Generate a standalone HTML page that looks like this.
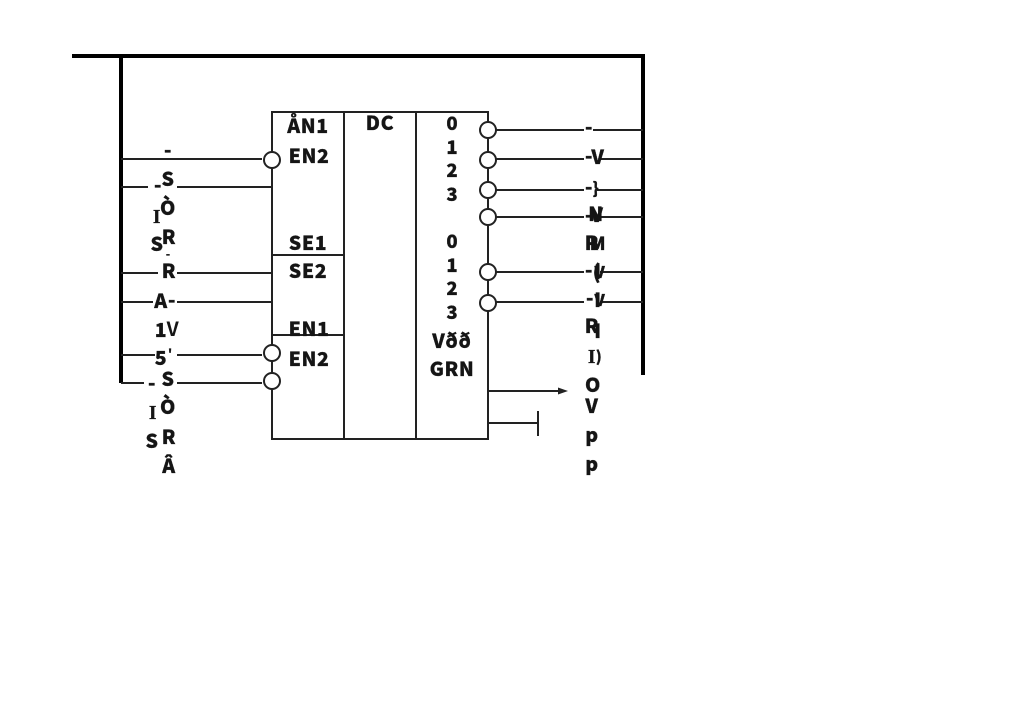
<!DOCTYPE html>
<html>
<head>
<meta charset="utf-8">
<style>
html,body{margin:0;padding:0;background:#fff;width:1024px;height:719px;overflow:hidden}
svg{display:block}
text{font-family:"Noto Sans CJK JP","DejaVu Sans",sans-serif;font-weight:900;fill:#151515;stroke:#151515;stroke-width:.3;text-anchor:middle}
.m{font-size:19.5px;letter-spacing:.6px}
.s{font-size:18.5px}
.l{stroke:#222;stroke-width:2;fill:none}
.b{stroke:#000;stroke-width:4;fill:none}
.c{stroke:#222;stroke-width:2;fill:#fff}
</style>
</head>
<body>
<svg width="1024" height="719" viewBox="0 0 1024 719" xmlns="http://www.w3.org/2000/svg">
<rect width="1024" height="719" fill="#fff"/>
<!-- heavy bus -->
<path class="b" d="M72 56H643V375"/>
<path class="b" d="M121 56V383"/>
<!-- main block -->
<rect class="l" x="272" y="112" width="216" height="327"/>
<path class="l" d="M344 112V439M416 112V439M272 255H344M272 335H344"/>
<!-- left wires -->
<path class="l" d="M121 159H262M121 187H148M177 187H272M121 273H158M177 273H272M121 302H153M177 302H272M121 355H155M177 355H262M121 383H144M177 383H262"/>
<!-- right wires -->
<path class="l" d="M496 130H584M593 130H643M496 159H584M600 159H643M496 190H584M597 190H643M496 217H584M600 217H643M496 272H584M600 272H643M496 302H584M600 302H643"/>
<path class="l" d="M488 391H560M488 423H538"/>
<path class="l" d="M538 411V436"/>
<path d="M558 387.5L568 391L558 394.500Z" fill="#222"/>
<!-- bubbles -->
<circle class="c" cx="272" cy="160" r="8"/>
<circle class="c" cx="272" cy="353" r="8"/>
<circle class="c" cx="272" cy="381" r="8"/>
<circle class="c" cx="488" cy="130" r="8"/>
<circle class="c" cx="488" cy="160" r="8"/>
<circle class="c" cx="488" cy="190" r="8"/>
<circle class="c" cx="488" cy="217" r="8"/>
<circle class="c" cx="488" cy="272" r="8"/>
<circle class="c" cx="488" cy="303" r="8"/>
<!-- block labels -->
<text class="m" x="308" y="133">ÅN1</text>
<text class="m" x="309" y="163">EN2</text>
<text class="m" x="380" y="130">DC</text>
<text class="m" x="308" y="250">SE1</text>
<text class="m" x="308" y="278">SE2</text>
<text class="m" x="309" y="336">EN1</text>
<text class="m" x="309" y="366">EN2</text>
<text class="s" x="452" y="130">0</text>
<text class="s" x="452" y="154">1</text>
<text class="s" x="452" y="177">2</text>
<text class="s" x="452" y="201">3</text>
<text class="s" x="452" y="248">0</text>
<text class="s" x="452" y="272">1</text>
<text class="s" x="452" y="295">2</text>
<text class="s" x="452" y="319">3</text>
<text class="m" x="452" y="348">Vðð</text>
<text class="m" x="452" y="376">GRN</text>
<!-- left signal labels -->
<text class="m" x="168" y="157">-</text>
<text class="m" x="168" y="186">S</text>
<text class="m" x="158" y="192">-</text>
<text class="m" x="168" y="215">Ò</text>
<text class="m" x="157" y="223" style="font-family:'Liberation Serif',serif">I</text>
<text class="m" x="169" y="244">R</text>
<text class="m" x="157" y="251">S</text>
<text class="s" x="168" y="258" style="font-size:11px">-</text>
<text class="m" x="169" y="278">R</text>
<text class="m" x="161" y="308">A</text>
<text class="m" x="172" y="307">-</text>
<text class="m" x="161" y="337">1</text>
<text class="m" x="173" y="336" style="font-weight:700;stroke-width:0">V</text>
<text class="m" x="161" y="365">5</text>
<text class="s" x="170" y="357" style="font-size:11px">'</text>
<text class="m" x="168" y="386">S</text>
<text class="m" x="152" y="390">-</text>
<text class="m" x="168" y="414">Ò</text>
<text class="m" x="153" y="419" style="font-family:'Liberation Serif',serif">I</text>
<text class="m" x="169" y="444">R</text>
<text class="m" x="152" y="448">S</text>
<text class="m" x="169" y="473">Â</text>
<!-- right signal labels, overprinted -->
<text class="m" x="589" y="134">-</text>
<text class="m" x="589" y="163">-</text>
<text class="m" x="598" y="164">V</text>
<text class="m" x="589" y="194">-</text>
<text class="m" x="596" y="194" style="font-size:16px">}</text>
<text class="m" x="589" y="222">-</text>
<text class="m" x="597" y="222">V</text>
<text class="m" x="596" y="221">N</text>
<text class="m" x="592" y="250">R</text>
<text class="m" x="598" y="250" style="font-size:18px">M</text>
<text class="m" x="589" y="277">-</text>
<text class="m" x="597" y="279">(</text>
<text class="m" x="598" y="279">I</text>
<text class="m" x="600" y="278" style="font-size:16px">V</text>
<text class="m" x="590" y="305">-</text>
<text class="m" x="598" y="307">I</text>
<text class="m" x="600" y="306" style="font-size:16px">V</text>
<text class="m" x="592" y="333">R</text>
<text class="m" x="598" y="338">I</text>
<text class="m" x="592" y="363" style="font-family:'Liberation Serif',serif">I</text>
<text class="m" x="599" y="362" style="font-size:15px">)</text>
<text class="m" x="593" y="392">O</text>
<text class="m" x="592" y="413">V</text>
<text class="m" x="592" y="442">p</text>
<text class="m" x="592" y="471">p</text>
</svg>
</body>
</html>
